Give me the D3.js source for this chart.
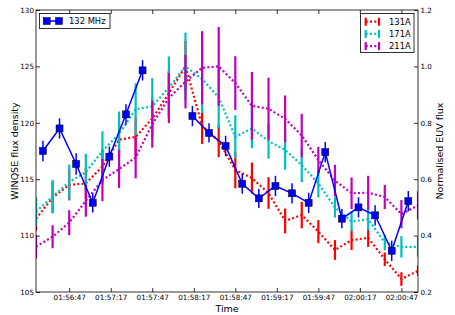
<!DOCTYPE html>
<html>
<head>
<meta charset="utf-8">
<script src="https://cdn.jsdelivr.net/npm/d3@7"></script>
<style>
body { margin: 0; background: #fff; }
svg { display: block; font-family: "DejaVu Sans", sans-serif; }
.euv { fill: none; stroke-width: 2.2px; stroke-dasharray: 2, 2.3; }
.bar { stroke-width: 2.2px; }
</style>
</head>
<body>
<svg id="chart"></svg>
<script>
// AIA times (12 s cadence)
const euvTimes = ["01:56:23","01:56:35","01:56:47","01:56:59","01:57:11","01:57:23",
  "01:57:35","01:57:47","01:57:59","01:58:11","01:58:23","01:58:35","01:58:47",
  "01:58:59","01:59:11","01:59:23","01:59:35","01:59:47","01:59:59","02:00:11",
  "02:00:23","02:00:35","02:00:47","02:00:59"];
const euv131 = [0.46,0.535,0.58,0.585,0.645,0.74,0.75,0.815,0.905,1.0,0.79,0.735,
  0.633,0.604,0.551,0.452,0.473,0.414,0.349,0.384,0.392,0.316,0.246,0.275];
const err131 = [0.043,0.055,0.055,0.055,0.06,0.065,0.068,0.072,0.08,0.09,0.065,0.057,
  0.065,0.055,0.056,0.044,0.047,0.041,0.035,0.035,0.032,0.024,0.024,0.018];
const euv171 = [0.485,0.538,0.59,0.625,0.70,0.76,0.848,0.858,0.925,1.0,0.955,0.89,
  0.75,0.78,0.735,0.704,0.65,0.585,0.50,0.45,0.458,0.375,0.36,0.36];
const err171 = [0.05,0.059,0.062,0.065,0.07,0.08,0.092,0.1,0.11,0.12,0.12,0.11,
  0.077,0.07,0.062,0.07,0.06,0.05,0.036,0.035,0.04,0.027,0.038,0.035];
const euv211 = [0.361,0.396,0.446,0.523,0.597,0.636,0.677,0.795,0.888,0.946,0.995,1.0,
  0.941,0.86,0.85,0.814,0.755,0.668,0.595,0.55,0.552,0.537,0.476,0.507];
const err211 = [0.041,0.041,0.044,0.056,0.075,0.067,0.074,0.083,0.089,0.095,0.13,0.14,
  0.095,0.12,0.11,0.083,0.077,0.047,0.056,0.056,0.06,0.043,0.05,0.05];

// WINQSE 132 MHz
const radioTimes = ["01:56:28","01:56:40","01:56:52","01:57:04","01:57:16","01:57:28",
  "01:57:40","01:57:52","01:58:04","01:58:16","01:58:28","01:58:40","01:58:52",
  "01:59:04","01:59:16","01:59:28","01:59:40","01:59:52","02:00:04","02:00:16",
  "02:00:28","02:00:40","02:00:52"];
const flux132 = [117.5,119.5,116.35,112.9,117.0,120.75,124.65,null,null,120.6,119.1,
  117.95,114.6,113.3,114.4,113.75,112.9,117.4,111.5,112.5,111.8,108.65,113.05];
const err132 = [0.9,0.9,0.95,0.85,0.9,0.9,0.9,null,null,0.9,0.85,0.9,0.9,0.85,0.9,
  0.9,0.9,0.9,0.85,0.9,0.9,0.9,0.9];

const xTickLabels = ["01:56:47","01:57:17","01:57:47","01:58:17","01:58:47",
  "01:59:17","01:59:47","02:00:17","02:00:47"];
const leftTicks = [105, 110, 115, 120, 125, 130];
const rightTicks = [0.2, 0.4, 0.6, 0.8, 1.0, 1.2];

const euvSeries = [
  { name: "131A", color: "#ff0000", values: euv131, errors: err131 },
  { name: "171A", color: "#00bfbf", values: euv171, errors: err171 },
  { name: "211A", color: "#bf00bf", values: euv211, errors: err211 }
];

const W = 455, H = 315;
const margin = { top: 10, right: 37, bottom: 23, left: 36 };
const width = W - margin.left - margin.right,
  height = H - margin.top - margin.bottom;

const parseTime = d3.timeParse("%H:%M:%S");
const fmt = d3.timeFormat("%H:%M:%S");

const x = d3.scaleTime()
  .domain([parseTime(euvTimes[0]), parseTime(euvTimes[euvTimes.length - 1])])
  .range([0, width]);
const yL = d3.scaleLinear().domain([105, 130]).range([height, 0]);
const yR = d3.scaleLinear().domain([0.2, 1.2]).range([height, 0]);

const svg = d3.select("#chart").attr("width", W).attr("height", H);
const g = svg.append("g")
  .attr("transform", "translate(" + margin.left + "," + margin.top + ")");

const clip = svg.append("defs").append("clipPath").attr("id", "plotclip");
clip.append("rect").attr("width", width).attr("height", height);
const plot = g.append("g").attr("clip-path", "url(#plotclip)");

// EUV curves and error bars
euvSeries.forEach(function (s) {
  const pts = euvTimes.map(function (t, i) {
    return { t: parseTime(t), v: s.values[i], e: s.errors[i] };
  });
  plot.append("g").selectAll("line")
    .data(pts).enter().append("line")
    .attr("class", "bar")
    .attr("stroke", s.color)
    .attr("x1", d => x(d.t)).attr("x2", d => x(d.t))
    .attr("y1", d => yR(d.v - d.e)).attr("y2", d => yR(d.v + d.e));
  plot.append("path")
    .datum(pts)
    .attr("class", "euv")
    .attr("stroke", s.color)
    .attr("d", d3.line().x(d => x(d.t)).y(d => yR(d.v)));
});

// radio flux
const radio = radioTimes.map(function (t, i) {
  return { t: parseTime(t), v: flux132[i], e: err132[i] };
});
const radioOk = radio.filter(d => d.v !== null);
plot.append("g").selectAll("line")
  .data(radioOk).enter().append("line")
  .attr("stroke", "#0000ff").attr("stroke-width", 1.5)
  .attr("x1", d => x(d.t)).attr("x2", d => x(d.t))
  .attr("y1", d => yL(d.v - d.e)).attr("y2", d => yL(d.v + d.e));
plot.append("path")
  .datum(radio)
  .attr("fill", "none").attr("stroke", "#0000ff").attr("stroke-width", 1.5)
  .attr("d", d3.line().defined(d => d.v !== null).x(d => x(d.t)).y(d => yL(d.v)));
plot.append("g").selectAll("rect")
  .data(radioOk).enter().append("rect")
  .attr("x", d => x(d.t) - 3.5).attr("y", d => yL(d.v) - 3.5)
  .attr("width", 7).attr("height", 7)
  .attr("fill", "#0000ff").attr("stroke", "#000").attr("stroke-width", 0.5);

// axes
const xTickDates = xTickLabels.map(parseTime);
function styleAxis(sel) {
  sel.select(".domain").remove();
  sel.selectAll(".tick line").attr("stroke", "#000").attr("stroke-width", 0.8);
  sel.selectAll(".tick text").attr("fill", "#000")
    .style("font-family", "DejaVu Sans").style("font-size", "7.2px");
}
g.append("g").attr("transform", "translate(0," + height + ")")
  .call(d3.axisBottom(x).tickValues(xTickDates).tickFormat(fmt)
    .tickSizeInner(-4).tickSizeOuter(0).tickPadding(2.5))
  .call(styleAxis);
g.append("g")
  .call(d3.axisTop(x).tickValues(xTickDates).tickFormat("")
    .tickSizeInner(-4).tickSizeOuter(0))
  .call(styleAxis);
g.append("g")
  .call(d3.axisLeft(yL).tickValues(leftTicks).tickFormat(d3.format("d"))
    .tickSizeInner(-4).tickSizeOuter(0).tickPadding(2))
  .call(styleAxis);
g.append("g").attr("transform", "translate(" + width + ",0)")
  .call(d3.axisRight(yR).tickValues(rightTicks).tickFormat(d3.format(".1f"))
    .tickSizeInner(-4).tickSizeOuter(0).tickPadding(2.5))
  .call(styleAxis);

g.append("rect")
  .attr("width", width).attr("height", height)
  .attr("fill", "none").attr("stroke", "#000").attr("stroke-width", 0.8);

// axis labels
svg.append("text")
  .attr("transform", "translate(14," + (margin.top + height / 2) + ") rotate(-90)")
  .attr("text-anchor", "middle").attr("dominant-baseline", "central")
  .style("font-size", "9.5px").text("WINQSE flux density");
svg.append("text")
  .attr("transform", "translate(439," + (margin.top + height / 2) + ") rotate(-90)")
  .attr("text-anchor", "middle").attr("dominant-baseline", "central")
  .style("font-size", "9.5px").text("Normalised EUV flux");
svg.append("text")
  .attr("x", margin.left + width / 2).attr("y", 308)
  .attr("text-anchor", "middle").attr("dominant-baseline", "central")
  .style("font-size", "9.5px").text("Time");

// legend: radio
const lg1 = svg.append("g");
lg1.append("rect").attr("x", 39.5).attr("y", 13.5).attr("width", 70.5).attr("height", 15)
  .attr("fill", "#fff").attr("stroke", "#000").attr("stroke-width", 0.8);
lg1.append("line").attr("x1", 46.7).attr("x2", 59).attr("y1", 21).attr("y2", 21)
  .attr("stroke", "#0000ff").attr("stroke-width", 1.5);
[46.7, 59].forEach(function (cx) {
  lg1.append("rect").attr("x", cx - 3.5).attr("y", 17.5).attr("width", 7).attr("height", 7)
    .attr("fill", "#0000ff").attr("stroke", "#000").attr("stroke-width", 0.5);
});
lg1.append("text").attr("x", 69).attr("y", 21).attr("dominant-baseline", "central")
  .style("font-size", "8.4px").text("132 MHz");

// legend: EUV
const lg2 = svg.append("g");
lg2.append("rect").attr("x", 360.5).attr("y", 13.5).attr("width", 53.5).attr("height", 39)
  .attr("fill", "#fff").attr("stroke", "#000").attr("stroke-width", 0.8);
euvSeries.forEach(function (s, i) {
  const cy = 21.7 + i * 12.2;
  lg2.append("line").attr("x1", 365.7).attr("x2", 379).attr("y1", cy).attr("y2", cy)
    .attr("class", "euv").attr("stroke", s.color);
  [365.7, 379].forEach(function (bx) {
    lg2.append("line").attr("x1", bx).attr("x2", bx).attr("y1", cy - 4).attr("y2", cy + 4)
      .attr("class", "bar").attr("stroke", s.color);
  });
  lg2.append("text").attr("x", 389).attr("y", cy).attr("dominant-baseline", "central")
    .style("font-size", "8.4px").text(s.name);
});
</script>
</body>
</html>
